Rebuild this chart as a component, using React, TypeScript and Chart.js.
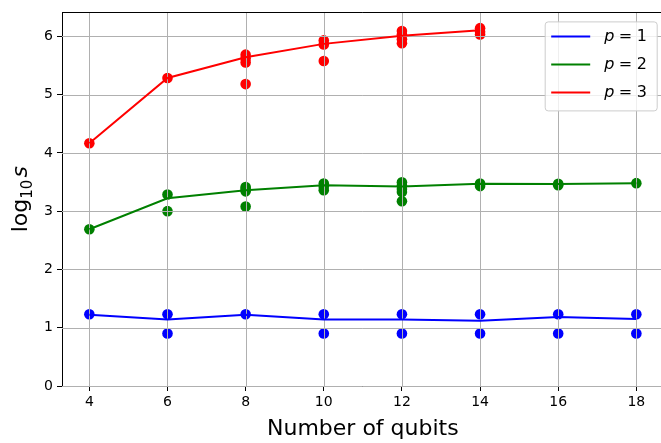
import React, { useEffect, useRef } from "react";
import { Chart, registerables } from "chart.js";

Chart.register(...registerables);

// ---- data ----
const qubits = [4, 6, 8, 10, 12, 14, 16, 18];
const p3Qubits = [4, 6, 8, 10, 12, 14];
const xTicks = [4, 6, 8, 10, 12, 14, 16, 18];
const yTicks = [0, 1, 2, 3, 4, 5, 6];
const pValues = [1, 2, 3];

const p1Mean = [1.222, 1.142, 1.222, 1.142, 1.142, 1.119, 1.182, 1.148];
const p2Mean = [2.69, 3.22, 3.36, 3.445, 3.425, 3.47, 3.465, 3.48];
const p3Mean = [4.165, 5.285, 5.64, 5.87, 6.01, 6.105];

const p1Samples = [
  [1.23],
  [1.23, 0.9],
  [1.23],
  [1.23, 0.9],
  [1.23, 0.9],
  [1.23, 0.9],
  [1.23, 0.9],
  [1.23, 0.9],
];
const p2Samples = [
  [2.69],
  [3.285, 3.0],
  [3.415, 3.38, 3.34, 3.08],
  [3.475, 3.42, 3.36],
  [3.495, 3.44, 3.38, 3.33, 3.17],
  [3.475, 3.43],
  [3.47, 3.445],
  [3.48],
];
const p3Samples = [
  [4.165],
  [5.285],
  [5.685, 5.62, 5.55, 5.18],
  [5.93, 5.86, 5.575],
  [6.09, 6.03, 5.95, 5.88],
  [6.14, 6.08, 6.03],
];

const xTitle = "Number of qubits";

// ---- styles ----
const colors = ["#0000ff", "#008000", "#ff0000"];
const FONT = "'DejaVu Sans', sans-serif";
const GRID = "#b0b0b0";

const gridPlugin = {
  id: "mplGrid",
  afterDatasetDraw(chart: any, args: any) {
    // grid sits above scatter markers but below lines (matplotlib zorder)
    if (args.index !== 3) return;
    const { ctx, chartArea } = chart;
    const xs = chart.scales.x;
    const ys = chart.scales.y;
    ctx.save();
    ctx.strokeStyle = GRID;
    ctx.lineWidth = 1;
    ctx.beginPath();
    xTicks.forEach((v) => {
      const px = Math.round(xs.getPixelForValue(v)) + 0.5;
      ctx.moveTo(px, chartArea.top);
      ctx.lineTo(px, chartArea.bottom);
    });
    yTicks.forEach((v) => {
      const py = Math.round(ys.getPixelForValue(v)) + 0.5;
      ctx.moveTo(chartArea.left, py);
      ctx.lineTo(chartArea.right, py);
    });
    ctx.stroke();
    ctx.restore();
  },
  afterDraw(chart: any) {
    const { ctx, chartArea } = chart;
    ctx.save();
    ctx.strokeStyle = "#000";
    ctx.lineWidth = 1;
    ctx.beginPath();
    ctx.moveTo(chartArea.left, Math.round(chartArea.top) + 0.5);
    ctx.lineTo(chartArea.right, Math.round(chartArea.top) + 0.5);
    ctx.stroke();

    // y-axis title: log_{10} s
    const cy = (chartArea.top + chartArea.bottom) / 2;
    ctx.translate(27, cy);
    ctx.rotate(-Math.PI / 2);
    ctx.fillStyle = "#000";
    ctx.textBaseline = "alphabetic";
    ctx.textAlign = "left";
    const big = `22px ${FONT}`;
    const small = `15px ${FONT}`;
    const ital = `italic 22px ${FONT}`;
    ctx.font = big;
    const wLog = ctx.measureText("log").width;
    ctx.font = small;
    const wSub = ctx.measureText("10").width;
    ctx.font = ital;
    const wS = ctx.measureText("s").width;
    const gap = 2;
    const total = wLog + wSub + gap + wS;
    let x = -total / 2;
    ctx.font = big;
    ctx.fillText("log", x, 0);
    x += wLog;
    ctx.font = small;
    ctx.fillText("10", x, 5);
    x += wSub + gap;
    ctx.font = ital;
    ctx.fillText("s", x, 0);
    ctx.restore();

    // legend
    ctx.save();
    const bx = chartArea.right - 118.5;
    const by = chartArea.top + 9.5;
    const bw = 112;
    const bh = 89;
    ctx.beginPath();
    ctx.roundRect(bx, by, bw, bh, 3);
    ctx.fillStyle = "rgba(255,255,255,0.8)";
    ctx.fill();
    ctx.strokeStyle = "#cccccc";
    ctx.lineWidth = 1;
    ctx.stroke();
    pValues.forEach((p, i) => {
      const ly = by + 14.5 + i * 28;
      ctx.strokeStyle = colors[i];
      ctx.lineWidth = 2;
      ctx.beginPath();
      ctx.moveTo(bx + 6, ly);
      ctx.lineTo(bx + 45, ly);
      ctx.stroke();
      ctx.fillStyle = "#000";
      ctx.textBaseline = "middle";
      ctx.textAlign = "left";
      let tx = bx + 59;
      ctx.font = `italic 16px ${FONT}`;
      ctx.fillText("p", tx, ly);
      tx += ctx.measureText("p").width + 4.5;
      ctx.font = `16px ${FONT}`;
      ctx.fillText("=", tx, ly);
      tx += ctx.measureText("=").width + 4.5;
      ctx.fillText(String(p), tx, ly);
    });
    ctx.restore();
  },
};

export default function App() {
  const ref = useRef<HTMLCanvasElement>(null);

  useEffect(() => {
    const canvas = ref.current;
    if (!canvas) return;
    const datasets: any[] = [];
    const lineSeries = [
      { xs: qubits, ys: p1Mean },
      { xs: qubits, ys: p2Mean },
      { xs: p3Qubits, ys: p3Mean },
    ];
    lineSeries.forEach((s, i) => {
      datasets.push({
        data: s.xs.map((x, j) => ({ x, y: s.ys[j] })),
        borderColor: colors[i],
        backgroundColor: colors[i],
        borderWidth: 2,
        pointRadius: 0,
        showLine: true,
        fill: false,
        tension: 0,
      });
    });
    const samples = [p1Samples, p2Samples, p3Samples];
    const sampleX = [qubits, qubits, p3Qubits];
    samples.forEach((arr, i) => {
      datasets.push({
        data: arr.flatMap((vals, j) => vals.map((v) => ({ x: sampleX[i][j], y: v }))),
        backgroundColor: colors[i],
        borderColor: colors[i],
        borderWidth: 0,
        pointRadius: 5.3,
        showLine: false,
      });
    });

    const tickFont = { family: FONT, size: 14 };
    const chart = new Chart(canvas, {
      type: "scatter",
      data: { datasets },
      plugins: [gridPlugin],
      options: {
        animation: false,
        responsive: false,
        devicePixelRatio: 1,
        events: [],
        layout: { padding: { top: 10, right: 0, left: 0, bottom: 0 } },
        plugins: { legend: { display: false }, tooltip: { enabled: false } },
        scales: {
          x: {
            type: "linear",
            min: 3.3,
            max: 18.7,
            afterBuildTicks: (s: any) => {
              s.ticks = xTicks.map((v) => ({ value: v }));
            },
            afterFit: (s: any) => {
              s.height = 57;
            },
            grid: {
              drawOnChartArea: false,
              drawTicks: true,
              tickLength: 5,
              tickColor: "#000",
              tickWidth: 1,
            },
            border: { display: true, color: "#000", width: 1 },
            ticks: {
              font: tickFont,
              color: "#000",
              padding: 3,
              maxRotation: 0,
              autoSkip: false,
              callback: (v: any) => String(v),
            },
            title: {
              display: true,
              text: xTitle,
              font: { family: FONT, size: 22 },
              color: "#000",
              padding: { top: 0, bottom: 1 },
            },
          },
          y: {
            type: "linear",
            min: 0,
            max: 6.41,
            afterBuildTicks: (s: any) => {
              s.ticks = yTicks.map((v) => ({ value: v }));
            },
            afterFit: (s: any) => {
              s.width = 62;
            },
            grid: {
              drawOnChartArea: false,
              drawTicks: true,
              tickLength: 5,
              tickColor: "#000",
              tickWidth: 1,
            },
            border: { display: true, color: "#000", width: 1 },
            ticks: {
              font: tickFont,
              color: "#000",
              padding: 4,
              autoSkip: false,
              callback: (v: any) => String(v),
            },
          },
        },
      },
    } as any);
    return () => chart.destroy();
  }, []);

  return (
    <div
      style={{
        position: "fixed",
        left: 0,
        top: 0,
        width: 661,
        height: 443,
        overflow: "hidden",
        background: "#fff",
      }}
    >
      <canvas ref={ref} width={669} height={443} style={{ display: "block" }} />
    </div>
  );
}
